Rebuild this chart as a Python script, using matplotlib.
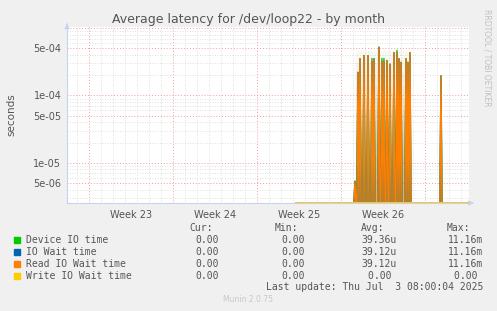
import numpy as np
import matplotlib
matplotlib.use("Agg")
import matplotlib.pyplot as plt

W, H = 497, 311

# time axis: days from the left edge of the graph, 2 h samples
span_days = 33.5
data_start = 19.08
step = 1.0 / 12

week_starts = [1.83, 8.83, 15.83, 22.83, 29.83]
week_labels = ["Week 23", "Week 24", "Week 25", "Week 26"]

spike_days = [24.0, 24.25, 24.42, 24.75, 25.08, 25.42, 25.58, 26.0, 26.25, 26.42,
              26.67, 26.92, 27.25, 27.5, 27.67, 27.83, 28.25, 28.42, 28.58, 31.17]
read_peaks = [5.2e-6, 2.2e-4, 3.5e-4, 3.9e-4, 3.9e-4, 3.2e-4, 3.5e-4, 5.2e-4, 3.2e-4, 3.2e-4,
              3.3e-4, 2.9e-4, 4.3e-4, 4.3e-4, 3.5e-4, 3.1e-4, 3.5e-4, 3.1e-4, 4.3e-4, 1.95e-4]
device_peaks = [5.4e-6, 2.2e-4, 3.5e-4, 3.9e-4, 3.9e-4, 3.55e-4, 3.5e-4, 5.2e-4, 3.55e-4, 3.55e-4,
                3.3e-4, 2.9e-4, 4.3e-4, 4.7e-4, 3.5e-4, 3.1e-4, 3.5e-4, 3.1e-4, 4.3e-4, 1.95e-4]

legend_names = ["Device IO time", "IO Wait time", "Read IO Wait time", "Write IO Wait time"]
legend_colors = ["#00cc00", "#0066b3", "#ff8000", "#ffcc00"]
cur_vals = ["0.00", "0.00", "0.00", "0.00"]
min_vals = ["0.00", "0.00", "0.00", "0.00"]
avg_vals = ["39.36u", "39.12u", "39.12u", "0.00 "]
max_vals = ["11.16m", "11.16m", "11.16m", "0.00 "]

ymin, ymax = 2.53e-6, 1.04e-3

# build the sample series
n = int(round((span_days - data_start) / step)) + 1
t = data_start + step * np.arange(n)
device = np.zeros(n)
read = np.zeros(n)
for d, r, g in zip(spike_days, read_peaks, device_peaks):
    i = int(round((d - data_start) / step))
    read[i] = r
    device[i] = g
iowait = read.copy()
write = np.zeros(n)


def px(x, y):
    return x / W, 1 - y / H


fig = plt.figure(figsize=(W / 100, H / 100), dpi=100, facecolor="#f0f0f0")
ax = fig.add_axes([67 / W, 1 - 203 / H, (469 - 67) / W, (203 - 27) / H])
ax.set_facecolor("white")
ax.set_yscale("log")
ax.set_xlim(0, span_days)
ax.set_ylim(ymin, ymax)

# grid
dot = (0, (1, 2))
for d in np.arange(week_starts[0] - 1, span_days, 1.0):
    if min(abs(d - w) for w in week_starts) > 0.01:
        ax.axvline(d, color="#d6d6d6", lw=0.6, ls=dot, zorder=0)
for w in week_starts:
    ax.axvline(w, color="#eaa0a0", lw=0.7, ls=dot, zorder=0)
for e in range(-6, -2):
    for m in range(1, 10):
        v = m * 10.0 ** e
        if ymin < v < ymax:
            if m in (1, 5):
                ax.axhline(v, color="#eaa0a0", lw=0.7, ls=dot, zorder=0)
            else:
                ax.axhline(v, color="#d6d6d6", lw=0.6, ls=dot, zorder=0)

# olive haze between the spikes, fading upwards
haze = "#9c8a3e"
levels = np.logspace(np.log10(ymin), np.log10(4.5e-4), 14)
alphas = np.linspace(0.6, 0.06, len(levels) - 1)
for lo, hi, a in zip(levels[:-1], levels[1:], alphas):
    ax.fill_between([24.05, 28.65], lo, hi, color=haze, alpha=a, lw=0, zorder=1)
    if hi <= 1.95e-4:
        ax.fill_between([31.1, 31.25], lo, hi, color=haze, alpha=min(a + 0.25, 0.9), lw=0, zorder=1)

ax.plot(t, np.maximum(device, ymin), color=legend_colors[0], lw=1.0, zorder=3)
ax.plot(t, np.maximum(iowait, ymin), color=legend_colors[1], lw=1.0, zorder=4)
ax.plot(t, np.maximum(read, ymin), color=legend_colors[2], lw=1.0, zorder=5)
ax.plot(t, np.maximum(write, ymin), color="#e6d38a", lw=1.2, zorder=6, clip_on=False)

# axes
for s in ("top", "right"):
    ax.spines[s].set_visible(False)
for s in ("left", "bottom"):
    ax.spines[s].set_color("#c8d0f4")
    ax.spines[s].set_linewidth(0.8)
ax.annotate("", xy=(0, 1.035), xytext=(0, 1.0), xycoords="axes fraction",
            arrowprops=dict(arrowstyle="-|>", color="#c8d0f4", lw=0.8, mutation_scale=7))
ax.annotate("", xy=(1.012, 0), xytext=(1.0, 0), xycoords="axes fraction",
            arrowprops=dict(arrowstyle="-|>", color="#c8d0f4", lw=0.8, mutation_scale=7))

ax.set_yticks([5e-6, 1e-5, 5e-5, 1e-4, 5e-4])
ax.set_yticklabels(["5e-06", "1e-05", "5e-05", "1e-04", "5e-04"])
ax.yaxis.set_minor_locator(matplotlib.ticker.NullLocator())
mids = [(week_starts[i] + week_starts[i + 1]) / 2 for i in range(4)]
ax.set_xticks(mids)
ax.set_xticklabels(week_labels)
ax.tick_params(axis="both", length=0, labelsize=7, colors="#555555", pad=4)
ax.tick_params(axis="x", pad=5)

fig.text(*px(248, 19), "Average latency for /dev/loop22 - by month", ha="center", va="center",
         fontsize=9, color="#555555")
fig.text(*px(11, 115), "seconds", rotation=90, ha="center", va="center", fontsize=7.5,
         color="#555555")
fig.text(*px(487, 58), "RRDTOOL / TOBI OETIKER", rotation=270, ha="center", va="center",
         fontsize=5.5, color="#c0c0c0")

mono = dict(family="DejaVu Sans Mono", fontsize=7, color="#555555", va="center")
fig.text(*px(213, 228), "Cur:", ha="right", **mono)
fig.text(*px(298, 228), "Min:", ha="right", **mono)
fig.text(*px(384, 228), "Avg:", ha="right", **mono)
fig.text(*px(470, 228), "Max:", ha="right", **mono)
for k, name in enumerate(legend_names):
    y = 240 + 12 * k
    fig.patches.append(plt.Rectangle(px(14, y + 3), 6 / W, 6 / H, transform=fig.transFigure,
                                     color=legend_colors[k]))
    fig.text(*px(26, y), name, ha="left", **mono)
    fig.text(*px(219, y), cur_vals[k], ha="right", **mono)
    fig.text(*px(305, y), min_vals[k], ha="right", **mono)
    fig.text(*px(397, y), avg_vals[k], ha="right", **mono)
    fig.text(*px(483, y), max_vals[k], ha="right", **mono)
fig.text(*px(483, 287), "Last update: Thu Jul  3 08:00:04 2025", ha="right", **mono)
fig.text(*px(248, 300), "Munin 2.0.75", ha="center", va="center", fontsize=5.5, color="#c8c8c8")

fig.savefig("out.png", dpi=100, facecolor=fig.get_facecolor())
